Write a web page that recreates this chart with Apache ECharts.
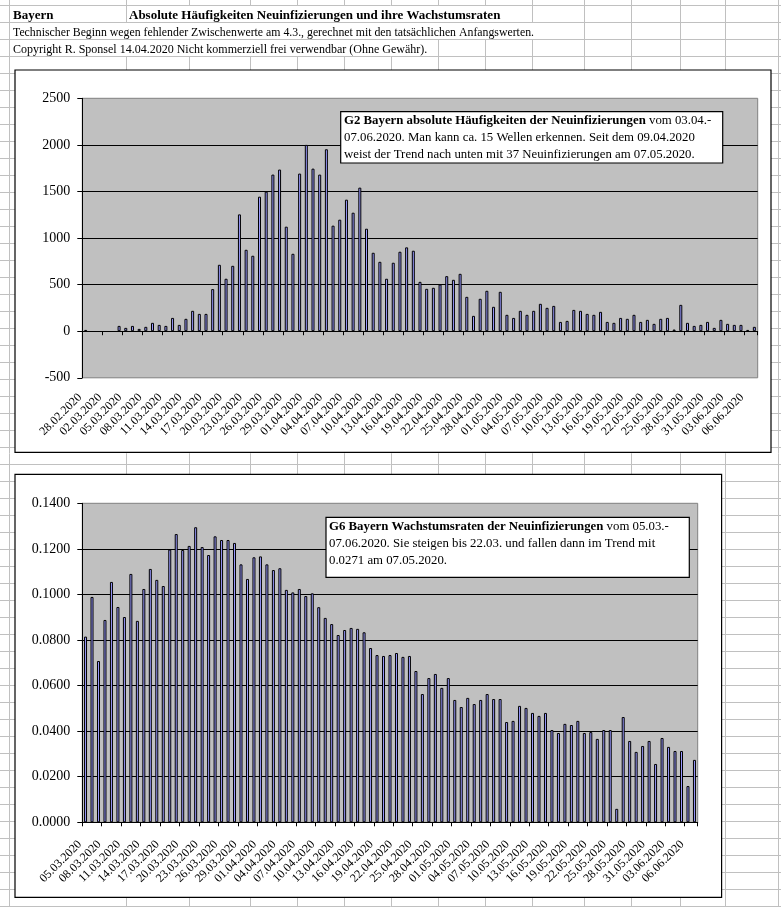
<!DOCTYPE html>
<html>
<head>
<meta charset="utf-8">
<script src="https://cdn.jsdelivr.net/npm/echarts@6/dist/echarts.min.js"></script>
<style>
html,body{margin:0;padding:0;background:#fff;}
#c{width:781px;height:907px;}
</style>
</head>
<body>
<div id="c"></div>
<script>
// ---------- data ----------
const dates = [
'28.02.2020','29.02.2020',
'01.03.2020','02.03.2020','03.03.2020','04.03.2020','05.03.2020','06.03.2020','07.03.2020','08.03.2020','09.03.2020','10.03.2020',
'11.03.2020','12.03.2020','13.03.2020','14.03.2020','15.03.2020','16.03.2020','17.03.2020','18.03.2020','19.03.2020','20.03.2020',
'21.03.2020','22.03.2020','23.03.2020','24.03.2020','25.03.2020','26.03.2020','27.03.2020','28.03.2020','29.03.2020','30.03.2020','31.03.2020',
'01.04.2020','02.04.2020','03.04.2020','04.04.2020','05.04.2020','06.04.2020','07.04.2020','08.04.2020','09.04.2020','10.04.2020',
'11.04.2020','12.04.2020','13.04.2020','14.04.2020','15.04.2020','16.04.2020','17.04.2020','18.04.2020','19.04.2020','20.04.2020',
'21.04.2020','22.04.2020','23.04.2020','24.04.2020','25.04.2020','26.04.2020','27.04.2020','28.04.2020','29.04.2020','30.04.2020',
'01.05.2020','02.05.2020','03.05.2020','04.05.2020','05.05.2020','06.05.2020','07.05.2020','08.05.2020','09.05.2020','10.05.2020',
'11.05.2020','12.05.2020','13.05.2020','14.05.2020','15.05.2020','16.05.2020','17.05.2020','18.05.2020','19.05.2020','20.05.2020',
'21.05.2020','22.05.2020','23.05.2020','24.05.2020','25.05.2020','26.05.2020','27.05.2020','28.05.2020','29.05.2020','30.05.2020','31.05.2020',
'01.06.2020','02.06.2020','03.06.2020','04.06.2020','05.06.2020','06.06.2020','07.06.2020'
];
// G6 starts on 05.03.2020
const datesGrowth = dates.slice(6);

const newInfections = [
14, null, null, null, null, 57, 36, 57, 25, 47,
90, 68, 57, 143, 68, 133, 219, 186, 186, 452,
713, 563, 702, 1254, 874, 810, 1444, 1498, 1681, 1735,
1122, 831, 1692, 2000, 1745, 1681, 1953, 1133, 1197, 1412,
1272, 1541, 1100, 842, 745, 563, 735, 853, 900, 864,
530, 455, 466, 502, 591, 552, 616, 369, 165, 348,
434, 262, 423, 176, 143, 219, 176, 219, 294, 251,
272, 100, 111, 229, 219, 186, 176, 208, 100, 90,
143, 133, 176, 100, 122, 79, 133, 143, 18, 283,
90, 57, 68, 100, 36, 122, 79, 68, 68, 14, 47
];

const growthRates = [
0.0815, 0.0989, 0.0708, 0.0888, 0.1055, 0.0945, 0.0901, 0.1090, 0.0884, 0.1024,
0.1112, 0.1064, 0.1037, 0.1197, 0.1265, 0.1195, 0.1213, 0.1295, 0.1208, 0.1173,
0.1255, 0.1239, 0.1239, 0.1226, 0.1132, 0.1068, 0.1163, 0.1167, 0.1132, 0.1107,
0.1115, 0.1020, 0.1009, 0.1024, 0.0993, 0.1005, 0.0944, 0.0897, 0.0870, 0.0822,
0.0844, 0.0853, 0.0849, 0.0834, 0.0765, 0.0734, 0.0730, 0.0734, 0.0743, 0.0726,
0.0730, 0.0664, 0.0563, 0.0633, 0.0651, 0.0590, 0.0633, 0.0537, 0.0506, 0.0546,
0.0519, 0.0537, 0.0563, 0.0541, 0.0541, 0.0440, 0.0445, 0.0511, 0.0502, 0.0480,
0.0467, 0.0480, 0.0405, 0.0392, 0.0432, 0.0427, 0.0445, 0.0392, 0.0396, 0.0366,
0.0405, 0.0405, 0.0059, 0.0462, 0.0357, 0.0309, 0.0335, 0.0357, 0.0256, 0.0370,
0.0331, 0.0313, 0.0313, 0.0159, 0.0274
];

const headerTexts = [
  'Bayern',
  'Absolute Häufigkeiten Neuinfizierungen und ihre Wachstumsraten',
  'Technischer Beginn wegen fehlender Zwischenwerte am 4.3., gerechnet mit den tatsächlichen Anfangswerten.',
  'Copyright R. Sponsel 14.04.2020 Nicht kommerziell frei verwendbar (Ohne Gewähr).'
];
const note1 = [
  ['G2 Bayern absolute Häufigkeiten der Neuinfizierungen', ' vom 03.04.-'],
  ['', '07.06.2020. Man kann ca. 15 Wellen erkennen. Seit dem 09.04.2020'],
  ['', 'weist der Trend nach unten mit 37 Neuinfizierungen am 07.05.2020.']
];
const note2 = [
  ['G6 Bayern Wachstumsraten der Neuinfizierungen', ' vom 05.03.-'],
  ['', '07.06.2020. Sie steigen bis 22.03. und fallen dann im Trend mit'],
  ['', '0.0271 am 07.05.2020.']
];

// ---------- layout / style ----------
const FONT = '"Liberation Serif", "Times New Roman", serif';
const GRIDLINE = '#c0c0c0';
const sheetCols = [9.5, 126.5, 189.5, 250.5, 297.5, 344.5, 391.5, 438.5, 485.5, 532.5, 584.5, 631.5, 680.5, 725.5, 778.5];

const gfx = [];
for (let y = 5.5; y < 907; y += 17) {
  gfx.push({type:'line', silent:true, z:-100, shape:{x1:0, y1:y, x2:781, y2:y}, style:{stroke:GRIDLINE, lineWidth:1}});
}
sheetCols.forEach(x => {
  gfx.push({type:'line', silent:true, z:-100, shape:{x1:x, y1:0, x2:x, y2:907}, style:{stroke:GRIDLINE, lineWidth:1}});
});
// text overflow hides the cell borders
[[127, 6, 405, 16], [10, 23, 574, 16], [10, 40, 428, 16]].forEach(r => {
  gfx.push({type:'rect', silent:true, z:-99, shape:{x:r[0], y:r[1], width:r[2], height:r[3]}, style:{fill:'#fff'}});
});
function txt(x, y, s, bold, size, z) {
  return {type:'text', silent:true, z:z, x:x, y:y,
    style:{text:s, fill:'#000', fontFamily:FONT, fontSize:size, fontWeight:bold?'bold':'normal', verticalAlign:'middle', align:'left'}};
}
gfx.push(txt(13, 16, headerTexts[0], true, 13, -98));
gfx.push(txt(129, 16, headerTexts[1], true, 13, -98));
gfx.push(txt(13, 33, headerTexts[2], false, 11.8, -98));
gfx.push(txt(13, 50, headerTexts[3], false, 12, -98));
// chart frames
gfx.push({type:'rect', silent:true, z:-97, shape:{x:15, y:70, width:756, height:382.3}, style:{fill:'#fff', stroke:'#000', lineWidth:1.2}});
gfx.push({type:'rect', silent:true, z:-97, shape:{x:15, y:474.3, width:706.6, height:423}, style:{fill:'#fff', stroke:'#000', lineWidth:1.2}});

function noteBox(box, lines, tx, ty0, fs) {
  gfx.push({type:'rect', silent:true, z:100, shape:{x:box[0], y:box[1], width:box[2], height:box[3]}, style:{fill:'#fff', stroke:'#000', lineWidth:1.2}});
  lines.forEach((ln, i) => {
    const s = (ln[0] ? '{b|' + ln[0] + '}' : '') + ln[1];
    gfx.push({type:'text', silent:true, z:101, x:tx, y:ty0 + i*17,
      style:{text:s, fill:'#000', fontFamily:FONT, fontSize:fs, verticalAlign:'middle', align:'left',
        rich:{b:{fontFamily:FONT, fontSize:fs, fontWeight:'bold', fill:'#000'}}}});
  });
}
noteBox([340.7, 111.7, 382, 51.3], note1, 344, 120.6, 12.8);
noteBox([326, 517.3, 363.3, 60], note2, 329, 527, 12.8);

const labelStyle = {fontFamily:FONT, fontSize:12, color:'#000'};
const yLabelStyle = {fontFamily:FONT, fontSize:14, color:'#000'};

const option = {
  animation: false,
  backgroundColor: '#fff',
  graphic: gfx,
  grid: [
    {left:82.3, top:98.3, width:675.4, height:279.5, show:true, backgroundColor:'#c0c0c0', borderColor:'#808080', borderWidth:1, containLabel:false, outerBoundsMode:'none'},
    {left:82.3, top:503.3, width:615.4, height:319, show:true, backgroundColor:'#c0c0c0', borderColor:'#808080', borderWidth:1, containLabel:false, outerBoundsMode:'none'}
  ],
  xAxis: [
    {gridIndex:0, type:'category', data:dates, position:'bottom', boundaryGap:true,
      axisLine:{show:false, onZero:false}, axisTick:{show:false}, splitLine:{show:false},
      axisLabel:Object.assign({interval:2, rotate:45, margin:12, padding:[0,8,0,0]}, labelStyle)},
    {gridIndex:0, type:'category', data:dates, position:'bottom', boundaryGap:true,
      axisLine:{show:true, onZero:true, lineStyle:{color:'#000', width:1}},
      axisTick:{show:true, interval:2, length:4, lineStyle:{color:'#000', width:1}},
      axisLabel:{show:false}, splitLine:{show:false}},
    {gridIndex:1, type:'category', data:datesGrowth, position:'bottom', boundaryGap:true,
      axisLine:{show:true, onZero:false, lineStyle:{color:'#000', width:1}},
      axisTick:{show:true, interval:2, length:4, lineStyle:{color:'#000', width:1}},
      splitLine:{show:false},
      axisLabel:Object.assign({interval:2, rotate:45, margin:14.5, padding:[0,8,0,0]}, labelStyle)}
  ],
  yAxis: [
    {gridIndex:0, type:'value', min:-500, max:2500, interval:500,
      axisLine:{show:true, lineStyle:{color:'#000', width:1}},
      axisTick:{show:true, length:5, lineStyle:{color:'#000'}},
      axisLabel:Object.assign({margin:12, formatter:v => String(v)}, yLabelStyle),
      splitLine:{show:true, showMinLine:false, showMaxLine:false, lineStyle:{color:'#000', width:1}}},
    {gridIndex:1, type:'value', min:0, max:0.14, interval:0.02,
      axisLine:{show:true, lineStyle:{color:'#000', width:1}},
      axisTick:{show:true, length:5, lineStyle:{color:'#000'}},
      axisLabel:Object.assign({margin:12, formatter:v => v.toFixed(4)}, yLabelStyle),
      splitLine:{show:true, showMinLine:false, showMaxLine:false, lineStyle:{color:'#000', width:1}}}
  ],
  series: [
    {type:'bar', xAxisIndex:0, yAxisIndex:0, data:newInfections, barWidth:3,
      itemStyle:{color:'#9999ff', borderColor:'#000', borderWidth:1}, emphasis:{disabled:true}},
    {type:'bar', xAxisIndex:2, yAxisIndex:1, data:growthRates, barWidth:3,
      itemStyle:{color:'#9999ff', borderColor:'#000', borderWidth:1}, emphasis:{disabled:true}}
  ]
};
const chart = echarts.init(document.getElementById('c'), null, {renderer:'canvas'});
chart.setOption(option);
</script>
</body>
</html>
